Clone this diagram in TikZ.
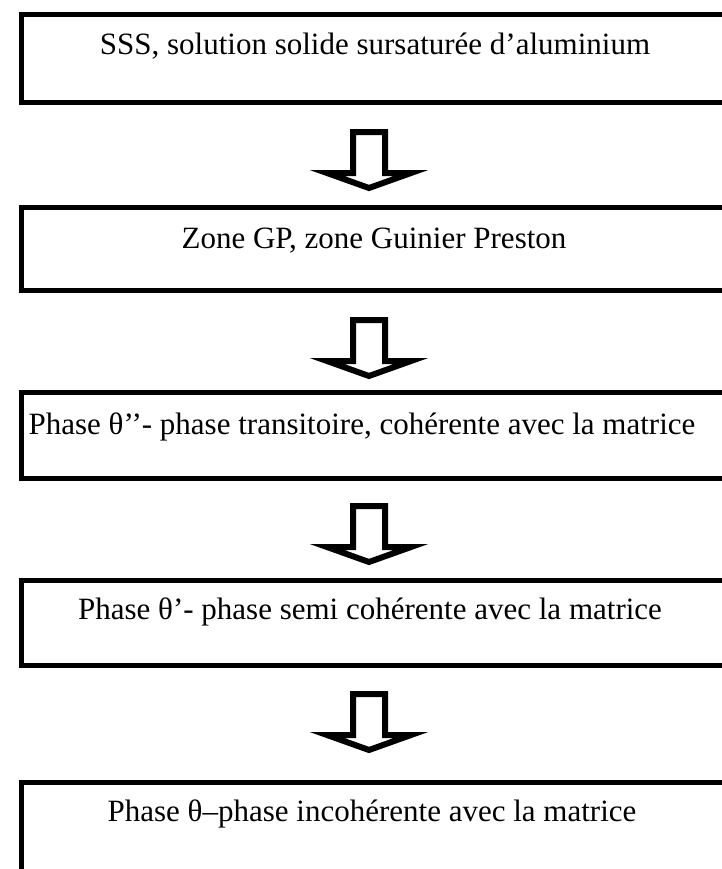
\documentclass[tikz,border=0pt]{standalone}
\usepackage{fontspec}
\setmainfont{Liberation Serif}
\usetikzlibrary{positioning,calc}
\begin{document}
\begin{tikzpicture}[x=0.5pt, y=-0.5pt,
    cadre/.style={draw, line width=2.5pt, minimum width=370pt, inner sep=0pt},
    etape/.style={inner sep=0pt, font=\fontsize{15.5}{18}\selectfont},
    fleche/.style={line width=3pt, line join=miter, fill=white}]
    \useasboundingbox (0,0) rectangle (722,869);

    % Cadres des étapes
    \node[cadre, minimum height=44pt] (b1) at (391,58.5) {};
    \node[cadre, minimum height=41.5pt] (b2) at (391,249) {};
    \node[cadre, minimum height=43pt] (b3) at (391,435) {};
    \node[cadre, minimum height=42.5pt] (b4) at (391,622.5) {};
    \node[cadre, minimum height=60pt] (b5) at (391,842) {};

    % Textes
    \node[etape] (t1) at (375,46) {SSS, solution solide sursaturée d’aluminium};
    \node[etape] (t2) at (374,241) {Zone GP, zone Guinier Preston};
    \node[etape] (t3) at (362,427) {Phase θ’’- phase transitoire, cohérente avec la matrice};
    \node[etape] (t4) at (370,612) {Phase θ’- phase semi cohérente avec la matrice};
    \node[etape] (t5) at (372,814) {Phase θ–phase incohérente avec la matrice};

    % Points de départ des flèches
    \coordinate (f1) at (369,132);
    \coordinate (f2) at (369,320);
    \coordinate (f3) at (369,506);
    \coordinate (f4) at (369,694);

    % Flèches creuses
    \foreach \f in {f1,f2,f3,f4}
        \draw[fleche] (\f) ++(-16,0) -- ++(0,41) -- ++(-26,0) -- ++(42,15)
            -- ++(42,-15) -- ++(-26,0) -- ++(0,-41) -- cycle;

\end{tikzpicture}
\end{document}
